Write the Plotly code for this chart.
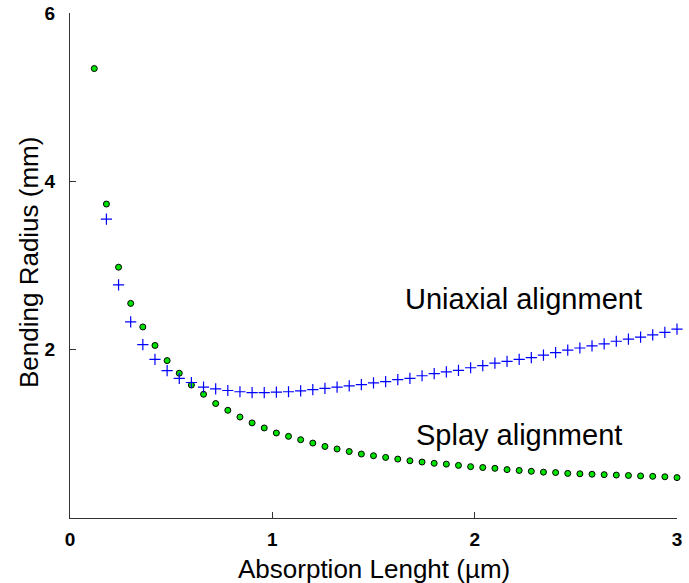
import plotly.graph_objects as go

# Absorption length grid (µm)
absorption_length = [
    0.12, 0.18, 0.24, 0.30, 0.36, 0.42, 0.48, 0.54, 0.60, 0.66,
    0.72, 0.78, 0.84, 0.90, 0.96, 1.02, 1.08, 1.14, 1.20, 1.26,
    1.32, 1.38, 1.44, 1.50, 1.56, 1.62, 1.68, 1.74, 1.80, 1.86,
    1.92, 1.98, 2.04, 2.10, 2.16, 2.22, 2.28, 2.34, 2.40, 2.46,
    2.52, 2.58, 2.64, 2.70, 2.76, 2.82, 2.88, 2.94, 3.00,
]

# Bending radius (mm) for splay alignment
splay_radius = [
    5.34, 3.73, 2.98, 2.55, 2.27, 2.05, 1.87, 1.72, 1.58, 1.47,
    1.36, 1.28, 1.20, 1.13, 1.07, 1.01, 0.97, 0.93, 0.89, 0.85,
    0.82, 0.79, 0.76, 0.74, 0.72, 0.70, 0.68, 0.665, 0.65, 0.64,
    0.625, 0.61, 0.60, 0.59, 0.575, 0.565, 0.555, 0.545, 0.54, 0.53,
    0.525, 0.52, 0.515, 0.51, 0.505, 0.50, 0.495, 0.49, 0.48,
]

# Bending radius (mm) for uniaxial alignment (first value off scale)
uniaxial_radius = [
    None, 3.55, 2.77, 2.33, 2.06, 1.885, 1.75, 1.66, 1.61, 1.555,
    1.535, 1.515, 1.50, 1.49, 1.49, 1.495, 1.50, 1.51, 1.525, 1.54,
    1.555, 1.57, 1.585, 1.605, 1.62, 1.645, 1.66, 1.69, 1.715, 1.735,
    1.755, 1.785, 1.81, 1.84, 1.86, 1.885, 1.905, 1.935, 1.965, 1.995,
    2.02, 2.045, 2.07, 2.10, 2.125, 2.15, 2.175, 2.205, 2.245,
]

x_ticks = [0, 1, 2, 3]
y_ticks = [2, 4, 6]

FONT = "Liberation Sans, Arial, Helvetica, sans-serif"
TICK_FONT = "Liberation Sans Narrow, Liberation Sans, Arial, sans-serif"

fig = go.Figure()

fig.add_trace(go.Scatter(
    x=absorption_length, y=splay_radius, mode="markers",
    name="Splay alignment",
    marker=dict(symbol="circle", size=6, color="rgb(0,225,0)",
                line=dict(color="black", width=1)),
    cliponaxis=False,
))

fig.add_trace(go.Scatter(
    x=absorption_length, y=uniaxial_radius, mode="markers",
    name="Uniaxial alignment",
    marker=dict(symbol="cross-thin", size=8,
                line=dict(color="rgb(0,0,255)", width=1.2)),
    cliponaxis=False,
))

# In-plot curve labels
fig.add_annotation(x=1.645, y=2.6, xref="x", yref="y", text="Uniaxial alignment",
                   showarrow=False, xanchor="left", yanchor="middle",
                   font=dict(family=FONT, size=29, color="black"))
fig.add_annotation(x=1.70, y=0.99, xref="x", yref="y", text="Splay alignment",
                   showarrow=False, xanchor="left", yanchor="middle",
                   font=dict(family=FONT, size=29, color="black"))

# Axis titles
fig.add_annotation(x=0.5, y=-0.101, xref="paper", yref="paper",
                   text="Absorption Lenght (µm)", showarrow=False,
                   xanchor="center", yanchor="middle",
                   font=dict(family=FONT, size=26, color="black"))
fig.add_annotation(x=-0.0675, y=0.505, xref="paper", yref="paper",
                   text="Bending Radius (mm)", showarrow=False, textangle=-90,
                   xanchor="center", yanchor="middle",
                   font=dict(family=FONT, size=26, color="black"))

axis_common = dict(
    showline=True, linecolor="#333333", linewidth=1.3, mirror=False,
    ticks="inside", ticklen=6, tickcolor="#333333", tickwidth=1.3,
    showgrid=False, zeroline=False, automargin=False,
    tickfont=dict(family=TICK_FONT, size=19, color="black", weight="bold"),
)

fig.update_xaxes(range=[0, 3], tickvals=x_ticks, ticktext=[str(v) for v in x_ticks],
                 ticklabelstandoff=4, **axis_common)
fig.update_yaxes(range=[0, 6], tickvals=y_ticks, ticktext=[str(v) for v in y_ticks],
                 ticklabelstandoff=10, **axis_common)

fig.update_layout(
    width=689, height=583,
    margin=dict(l=70, r=12, t=13, b=65),
    paper_bgcolor="white", plot_bgcolor="white",
    showlegend=False,
)

fig.write_html("out.html")
